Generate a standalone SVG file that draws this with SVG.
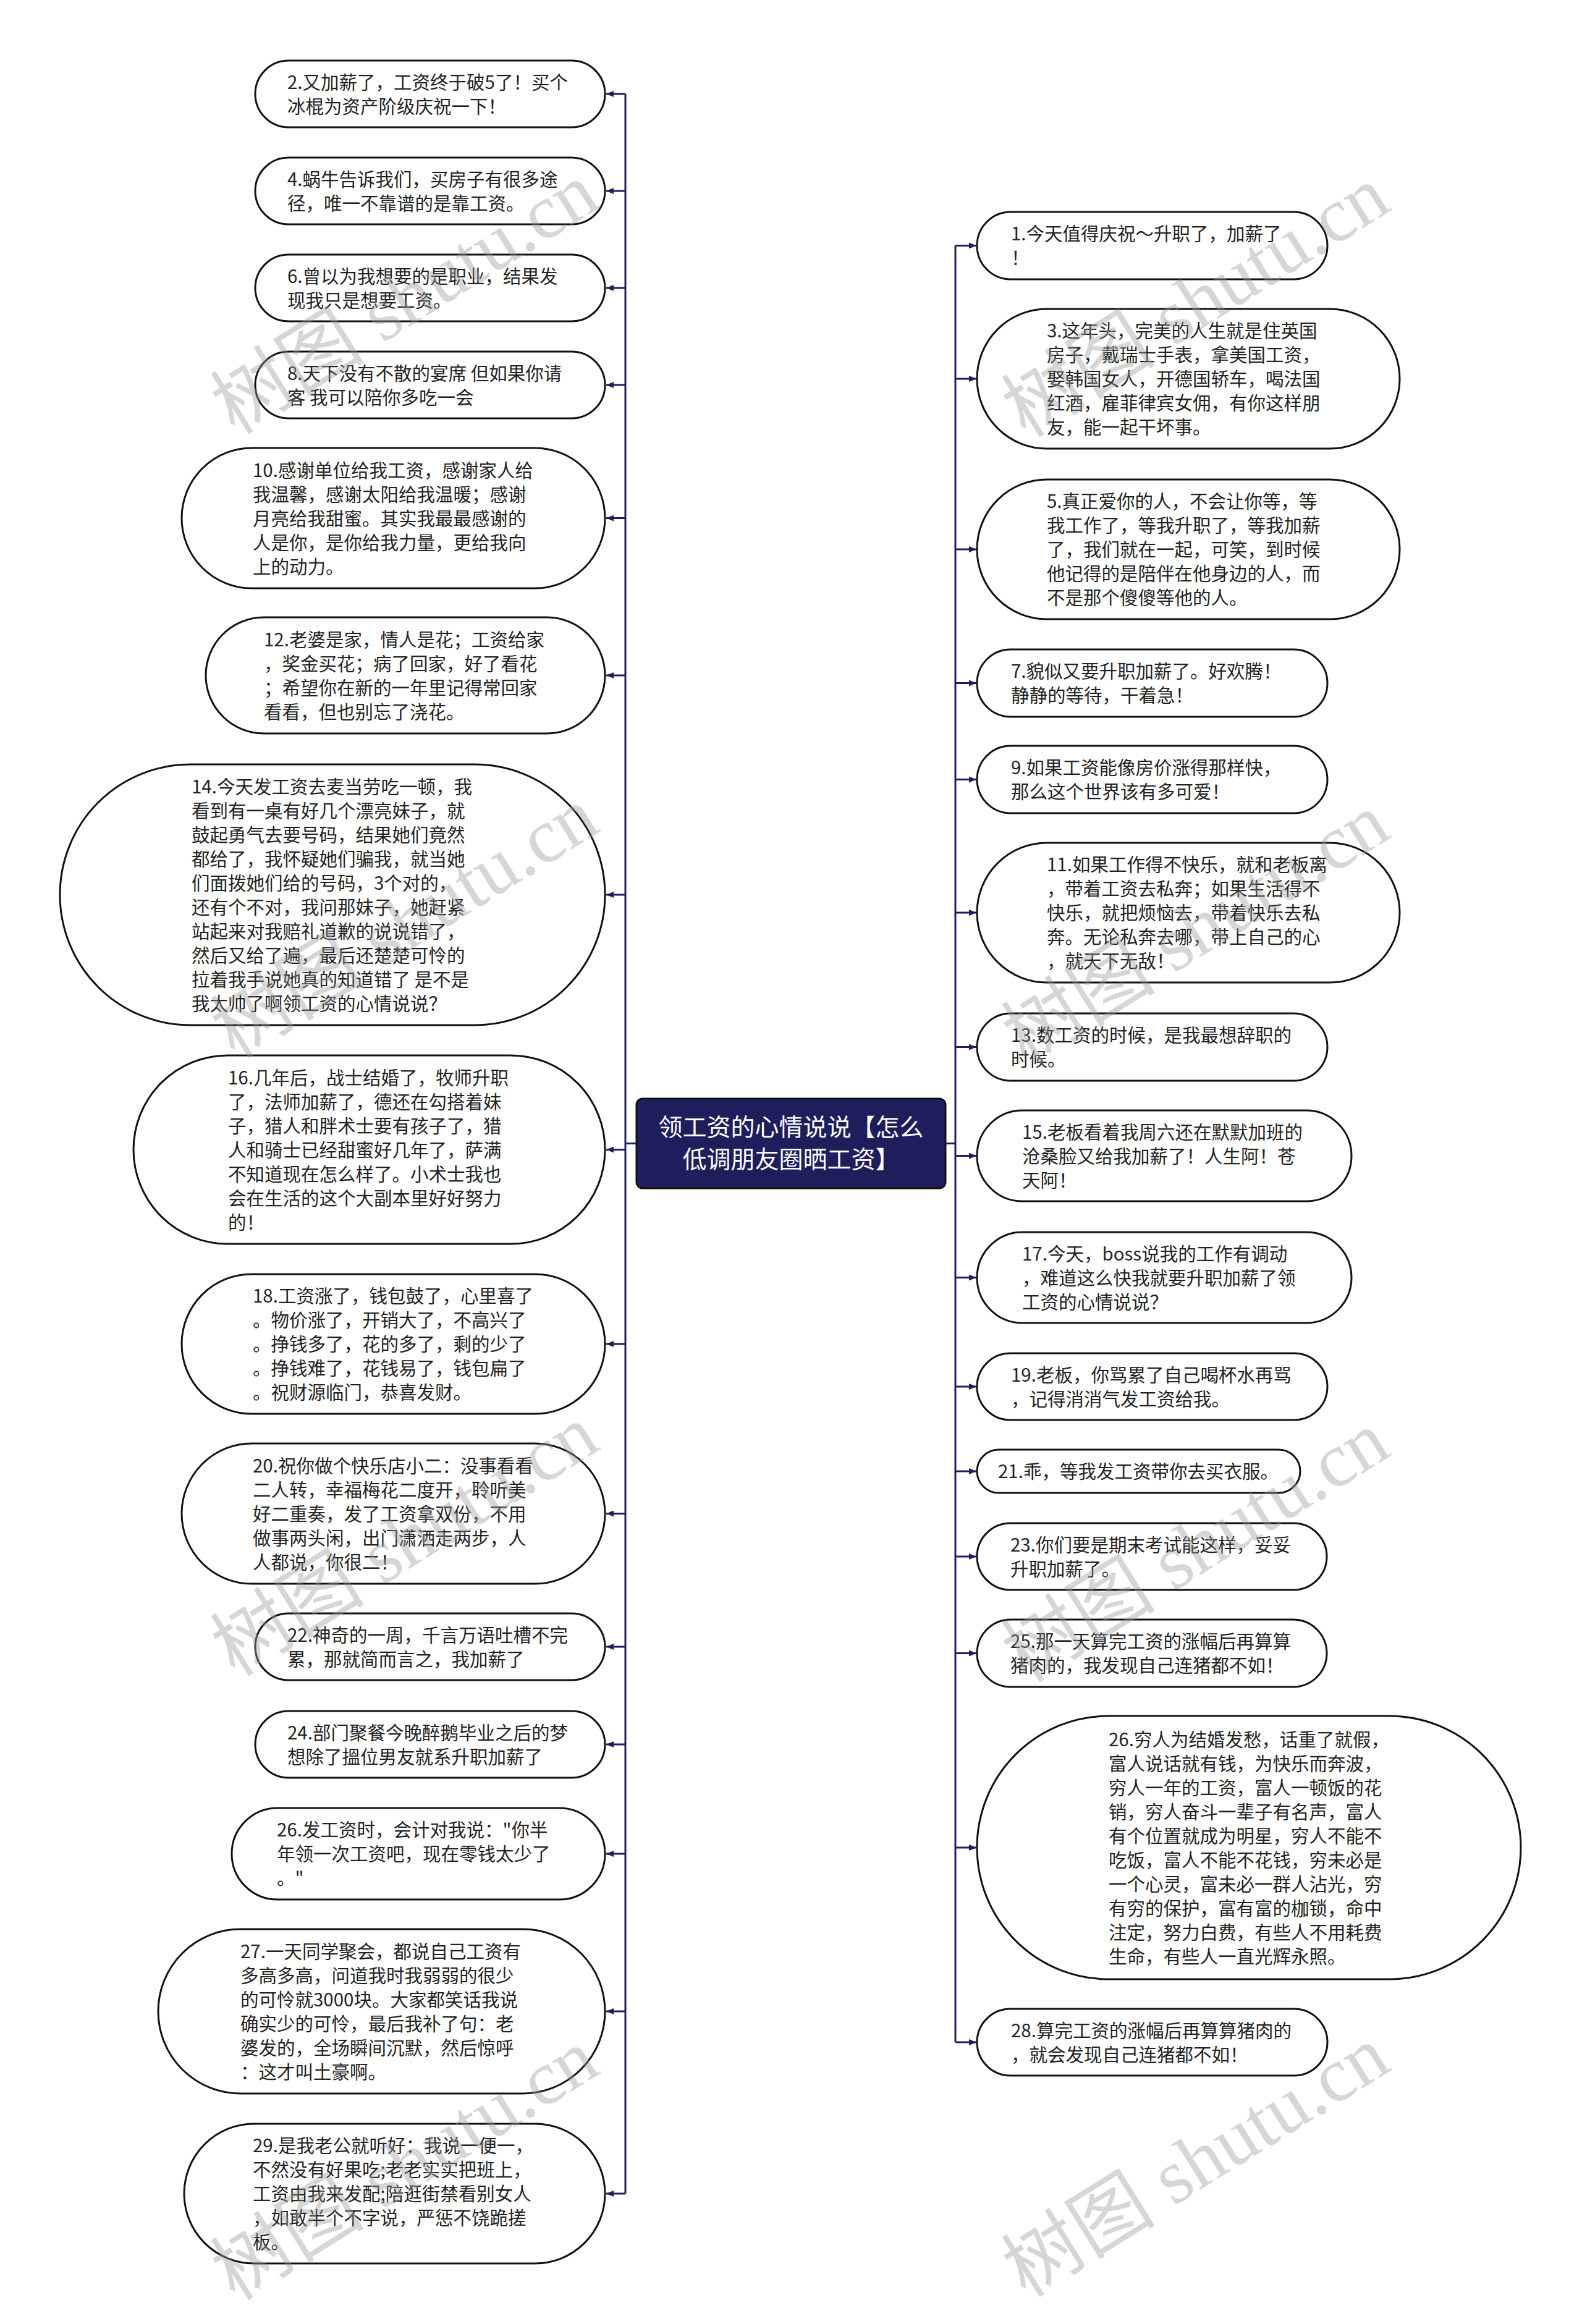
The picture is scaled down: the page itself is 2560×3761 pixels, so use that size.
<svg xmlns="http://www.w3.org/2000/svg" width="2560" height="3761" viewBox="0 0 2560 3761">
<style>
.bg{fill:#ffffff}
.node{fill:#ffffff;stroke:#111111;stroke-width:3}
.t{font-family:"Noto Sans CJK SC","Noto Sans",sans-serif;font-size:29.5px;fill:#222222}
.root{fill:#1e1e5c;stroke:#111111;stroke-width:3}
.rt{font-family:"Noto Sans CJK SC","Noto Sans",sans-serif;font-size:39px;fill:#ffffff;text-anchor:middle}
.ln{fill:none;stroke:#1e1e5c;stroke-width:3}
.wm{font-family:"Liberation Serif","Noto Sans CJK SC",serif;font-size:125px;fill:#9a9a9a;opacity:0.4}
</style>
<defs>
<marker id="ah" viewBox="0 0 12 10" refX="12" refY="5" markerWidth="12" markerHeight="10" markerUnits="userSpaceOnUse" orient="auto">
<path d="M0,0 L12,5 L0,10 z" fill="#1e1e5c"/>
</marker>
</defs>
<rect class="bg" x="0" y="0" width="2560" height="3761"/>

<g id="connectors">
<path class="ln" d="M1030,1850.5 H1012 M1012,152 V3550"/>
<path class="ln" d="M1530,1850.5 H1546 M1546,397.5 V3305"/>
<g marker-end="url(#ah)">
<path class="ln" d="M1012,152 H981"/>
<path class="ln" d="M1012,309 H981"/>
<path class="ln" d="M1012,466 H981"/>
<path class="ln" d="M1012,623 H981"/>
<path class="ln" d="M1012,838.5 H981"/>
<path class="ln" d="M1012,1093 H981"/>
<path class="ln" d="M1012,1448 H981"/>
<path class="ln" d="M1012,1860.5 H981"/>
<path class="ln" d="M1012,2175 H981"/>
<path class="ln" d="M1012,2449.5 H981"/>
<path class="ln" d="M1012,2665 H981"/>
<path class="ln" d="M1012,2823 H981"/>
<path class="ln" d="M1012,3000 H981"/>
<path class="ln" d="M1012,3255 H981"/>
<path class="ln" d="M1012,3550 H981"/>
<path class="ln" d="M1546,397.5 H1580"/>
<path class="ln" d="M1546,613 H1580"/>
<path class="ln" d="M1546,889 H1580"/>
<path class="ln" d="M1546,1105.5 H1580"/>
<path class="ln" d="M1546,1261.5 H1580"/>
<path class="ln" d="M1546,1477 H1580"/>
<path class="ln" d="M1546,1694.5 H1580"/>
<path class="ln" d="M1546,1870.5 H1580"/>
<path class="ln" d="M1546,2067.5 H1580"/>
<path class="ln" d="M1546,2244 H1580"/>
<path class="ln" d="M1546,2381 H1580"/>
<path class="ln" d="M1546,2519 H1580"/>
<path class="ln" d="M1546,2675.5 H1580"/>
<path class="ln" d="M1546,2990 H1580"/>
<path class="ln" d="M1546,3305 H1580"/>
</g>
</g>

<g id="root">
<rect class="root" x="1030" y="1778" width="500" height="145" rx="10"/>
<text class="rt" x="1280" y="1838">领工资的心情说说【怎么</text>
<text class="rt" x="1280" y="1890">低调朋友圈晒工资】</text>
</g>

<g id="n2"><rect class="node" x="413" y="98" width="566" height="108" rx="54"/>
<text class="t" x="465" y="143.5"><tspan>2.又加薪了，工资终于破5了！买个</tspan><tspan x="465" dy="39">冰棍为资产阶级庆祝一下！</tspan></text></g>
<g id="n4"><rect class="node" x="413" y="255" width="566" height="108" rx="54"/>
<text class="t" x="465" y="300.5"><tspan>4.蜗牛告诉我们，买房子有很多途</tspan><tspan x="465" dy="39">径，唯一不靠谱的是靠工资。</tspan></text></g>
<g id="n6"><rect class="node" x="413" y="412" width="566" height="108" rx="54"/>
<text class="t" x="465" y="457.5"><tspan>6.曾以为我想要的是职业，结果发</tspan><tspan x="465" dy="39">现我只是想要工资。</tspan></text></g>
<g id="n8"><rect class="node" x="413" y="569" width="566" height="108" rx="54"/>
<text class="t" x="465" y="614.5"><tspan>8.天下没有不散的宴席 但如果你请</tspan><tspan x="465" dy="39">客 我可以陪你多吃一会</tspan></text></g>
<g id="n10"><rect class="node" x="294" y="725" width="685" height="227" rx="113.5"/>
<text class="t" x="409" y="771.5"><tspan>10.感谢单位给我工资，感谢家人给</tspan><tspan x="409" dy="39">我温馨，感谢太阳给我温暖；感谢</tspan><tspan x="409" dy="39">月亮给我甜蜜。其实我最最感谢的</tspan><tspan x="409" dy="39">人是你，是你给我力量，更给我向</tspan><tspan x="409" dy="39">上的动力。</tspan></text></g>
<g id="n12"><rect class="node" x="333" y="999" width="646" height="188" rx="94"/>
<text class="t" x="427" y="1045.5"><tspan>12.老婆是家，情人是花；工资给家</tspan><tspan x="427" dy="39">，奖金买花；病了回家，好了看花</tspan><tspan x="427" dy="39">；希望你在新的一年里记得常回家</tspan><tspan x="427" dy="39">看看，但也别忘了浇花。</tspan></text></g>
<g id="n14"><rect class="node" x="97" y="1237" width="882" height="422" rx="211"/>
<text class="t" x="310" y="1283.5"><tspan>14.今天发工资去麦当劳吃一顿，我</tspan><tspan x="310" dy="39">看到有一桌有好几个漂亮妹子，就</tspan><tspan x="310" dy="39">鼓起勇气去要号码，结果她们竟然</tspan><tspan x="310" dy="39">都给了，我怀疑她们骗我，就当她</tspan><tspan x="310" dy="39">们面拨她们给的号码，3个对的，</tspan><tspan x="310" dy="39">还有个不对，我问那妹子，她赶紧</tspan><tspan x="310" dy="39">站起来对我赔礼道歉的说说错了，</tspan><tspan x="310" dy="39">然后又给了遍，最后还楚楚可怜的</tspan><tspan x="310" dy="39">拉着我手说她真的知道错了 是不是</tspan><tspan x="310" dy="39">我太帅了啊领工资的心情说说？</tspan></text></g>
<g id="n16"><rect class="node" x="216" y="1708" width="763" height="305" rx="152.5"/>
<text class="t" x="369" y="1754.5"><tspan>16.几年后，战士结婚了，牧师升职</tspan><tspan x="369" dy="39">了，法师加薪了，德还在勾搭着妹</tspan><tspan x="369" dy="39">子，猎人和胖术士要有孩子了，猎</tspan><tspan x="369" dy="39">人和骑士已经甜蜜好几年了，萨满</tspan><tspan x="369" dy="39">不知道现在怎么样了。小术士我也</tspan><tspan x="369" dy="39">会在生活的这个大副本里好好努力</tspan><tspan x="369" dy="39">的！</tspan></text></g>
<g id="n18"><rect class="node" x="294" y="2062" width="685" height="226" rx="113"/>
<text class="t" x="409" y="2108"><tspan>18.工资涨了，钱包鼓了，心里喜了</tspan><tspan x="409" dy="39">。物价涨了，开销大了，不高兴了</tspan><tspan x="409" dy="39">。挣钱多了，花的多了，剩的少了</tspan><tspan x="409" dy="39">。挣钱难了，花钱易了，钱包扁了</tspan><tspan x="409" dy="39">。祝财源临门，恭喜发财。</tspan></text></g>
<g id="n20"><rect class="node" x="294" y="2336" width="685" height="227" rx="113.5"/>
<text class="t" x="409" y="2382.5"><tspan>20.祝你做个快乐店小二：没事看看</tspan><tspan x="409" dy="39">二人转，幸福梅花二度开，聆听美</tspan><tspan x="409" dy="39">好二重奏，发了工资拿双份，不用</tspan><tspan x="409" dy="39">做事两头闲，出门潇洒走两步，人</tspan><tspan x="409" dy="39">人都说，你很二！</tspan></text></g>
<g id="n22"><rect class="node" x="413" y="2611" width="566" height="108" rx="54"/>
<text class="t" x="465" y="2656.5"><tspan>22.神奇的一周，千言万语吐槽不完</tspan><tspan x="465" dy="39">累，那就简而言之，我加薪了</tspan></text></g>
<g id="n24"><rect class="node" x="413" y="2769" width="566" height="108" rx="54"/>
<text class="t" x="465" y="2814.5"><tspan>24.部门聚餐今晚醉鹅毕业之后的梦</tspan><tspan x="465" dy="39">想除了搵位男友就系升职加薪了</tspan></text></g>
<g id="n26a"><rect class="node" x="375" y="2926" width="604" height="148" rx="74"/>
<text class="t" x="448" y="2972"><tspan>26.发工资时，会计对我说："你半</tspan><tspan x="448" dy="39">年领一次工资吧，现在零钱太少了</tspan><tspan x="448" dy="39">。"</tspan></text></g>
<g id="n27"><rect class="node" x="256" y="3122" width="723" height="266" rx="133"/>
<text class="t" x="389" y="3168.5"><tspan>27.一天同学聚会，都说自己工资有</tspan><tspan x="389" dy="39">多高多高，问道我时我弱弱的很少</tspan><tspan x="389" dy="39">的可怜就3000块。大家都笑话我说</tspan><tspan x="389" dy="39">确实少的可怜，最后我补了句：老</tspan><tspan x="389" dy="39">婆发的，全场瞬间沉默，然后惊呼</tspan><tspan x="389" dy="39">：这才叫土豪啊。</tspan></text></g>
<g id="n29"><rect class="node" x="298" y="3437" width="681" height="226" rx="113"/>
<text class="t" x="409" y="3483"><tspan>29.是我老公就听好：我说一便一，</tspan><tspan x="409" dy="39">不然没有好果吃;老老实实把班上，</tspan><tspan x="409" dy="39">工资由我来发配;陪逛街禁看别女人</tspan><tspan x="409" dy="39">，如敢半个不字说，严惩不饶跪搓</tspan><tspan x="409" dy="39">板。</tspan></text></g>

<g id="n1"><rect class="node" x="1581" y="343" width="567" height="109" rx="54.5"/>
<text class="t" x="1636" y="389"><tspan>1.今天值得庆祝～升职了，加薪了</tspan><tspan x="1636" dy="39">！</tspan></text></g>
<g id="n3"><rect class="node" x="1581" y="500" width="684" height="226" rx="113"/>
<text class="t" x="1694" y="546"><tspan>3.这年头，完美的人生就是住英国</tspan><tspan x="1694" dy="39">房子，戴瑞士手表，拿美国工资，</tspan><tspan x="1694" dy="39">娶韩国女人，开德国轿车，喝法国</tspan><tspan x="1694" dy="39">红酒，雇菲律宾女佣，有你这样朋</tspan><tspan x="1694" dy="39">友，能一起干坏事。</tspan></text></g>
<g id="n5"><rect class="node" x="1581" y="776" width="684" height="226" rx="113"/>
<text class="t" x="1694" y="822"><tspan>5.真正爱你的人，不会让你等，等</tspan><tspan x="1694" dy="39">我工作了，等我升职了，等我加薪</tspan><tspan x="1694" dy="39">了，我们就在一起，可笑，到时候</tspan><tspan x="1694" dy="39">他记得的是陪伴在他身边的人，而</tspan><tspan x="1694" dy="39">不是那个傻傻等他的人。</tspan></text></g>
<g id="n7"><rect class="node" x="1581" y="1051" width="567" height="109" rx="54.5"/>
<text class="t" x="1636" y="1097"><tspan>7.貌似又要升职加薪了。好欢腾！</tspan><tspan x="1636" dy="39">静静的等待，干着急！</tspan></text></g>
<g id="n9"><rect class="node" x="1581" y="1207" width="567" height="109" rx="54.5"/>
<text class="t" x="1636" y="1253"><tspan>9.如果工资能像房价涨得那样快，</tspan><tspan x="1636" dy="39">那么这个世界该有多可爱！</tspan></text></g>
<g id="n11"><rect class="node" x="1581" y="1364" width="684" height="226" rx="113"/>
<text class="t" x="1694" y="1410"><tspan>11.如果工作得不快乐，就和老板离</tspan><tspan x="1694" dy="39">，带着工资去私奔；如果生活得不</tspan><tspan x="1694" dy="39">快乐，就把烦恼去，带着快乐去私</tspan><tspan x="1694" dy="39">奔。无论私奔去哪，带上自己的心</tspan><tspan x="1694" dy="39">，就天下无敌！</tspan></text></g>
<g id="n13"><rect class="node" x="1581" y="1640" width="567" height="109" rx="54.5"/>
<text class="t" x="1636" y="1686"><tspan>13.数工资的时候，是我最想辞职的</tspan><tspan x="1636" dy="39">时候。</tspan></text></g>
<g id="n15"><rect class="node" x="1581" y="1797" width="606" height="147" rx="73.5"/>
<text class="t" x="1654" y="1842.5"><tspan>15.老板看着我周六还在默默加班的</tspan><tspan x="1654" dy="39">沧桑脸又给我加薪了！人生阿！苍</tspan><tspan x="1654" dy="39">天阿！</tspan></text></g>
<g id="n17"><rect class="node" x="1581" y="1994" width="606" height="147" rx="73.5"/>
<text class="t" x="1654" y="2039.5"><tspan>17.今天，boss说我的工作有调动</tspan><tspan x="1654" dy="39">，难道这么快我就要升职加薪了领</tspan><tspan x="1654" dy="39">工资的心情说说？</tspan></text></g>
<g id="n19"><rect class="node" x="1581" y="2190" width="567" height="108" rx="54"/>
<text class="t" x="1636" y="2235.5"><tspan>19.老板，你骂累了自己喝杯水再骂</tspan><tspan x="1636" dy="39">，记得消消气发工资给我。</tspan></text></g>
<g id="n21"><rect class="node" x="1581" y="2346" width="523" height="70" rx="35"/>
<text class="t" x="1615" y="2392">21.乖，等我发工资带你去买衣服。</text></g>
<g id="n23"><rect class="node" x="1581" y="2465" width="566" height="108" rx="54"/>
<text class="t" x="1635" y="2510.5"><tspan>23.你们要是期末考试能这样，妥妥</tspan><tspan x="1635" dy="39">升职加薪了。</tspan></text></g>
<g id="n25"><rect class="node" x="1581" y="2621" width="566" height="109" rx="54.5"/>
<text class="t" x="1635" y="2667"><tspan>25.那一天算完工资的涨幅后再算算</tspan><tspan x="1635" dy="39">猪肉的，我发现自己连猪都不如！</tspan></text></g>
<g id="n26b"><rect class="node" x="1581" y="2777" width="880" height="426" rx="213"/>
<text class="t" x="1794" y="2825.5"><tspan>26.穷人为结婚发愁，话重了就假，</tspan><tspan x="1794" dy="39">富人说话就有钱，为快乐而奔波，</tspan><tspan x="1794" dy="39">穷人一年的工资，富人一顿饭的花</tspan><tspan x="1794" dy="39">销，穷人奋斗一辈子有名声，富人</tspan><tspan x="1794" dy="39">有个位置就成为明星，穷人不能不</tspan><tspan x="1794" dy="39">吃饭，富人不能不花钱，穷未必是</tspan><tspan x="1794" dy="39">一个心灵，富未必一群人沾光，穷</tspan><tspan x="1794" dy="39">有穷的保护，富有富的枷锁，命中</tspan><tspan x="1794" dy="39">注定，努力白费，有些人不用耗费</tspan><tspan x="1794" dy="39">生命，有些人一直光辉永照。</tspan></text></g>
<g id="n28"><rect class="node" x="1581" y="3251" width="567" height="108" rx="54"/>
<text class="t" x="1636" y="3296.5"><tspan>28.算完工资的涨幅后再算算猪肉的</tspan><tspan x="1636" dy="39">，就会发现自己连猪都不如！</tspan></text></g>

<g id="watermarks">
<text class="wm" transform="translate(380,705) rotate(-32)">树图 shutu.cn</text>
<text class="wm" transform="translate(1660,710) rotate(-32)">树图 shutu.cn</text>
<text class="wm" transform="translate(380,1715) rotate(-32)">树图 shutu.cn</text>
<text class="wm" transform="translate(1660,1725) rotate(-32)">树图 shutu.cn</text>
<text class="wm" transform="translate(380,2715) rotate(-32)">树图 shutu.cn</text>
<text class="wm" transform="translate(1660,2725) rotate(-32)">树图 shutu.cn</text>
<text class="wm" transform="translate(380,3725) rotate(-32)">树图 shutu.cn</text>
<text class="wm" transform="translate(1660,3720) rotate(-32)">树图 shutu.cn</text>
</g>
</svg>
